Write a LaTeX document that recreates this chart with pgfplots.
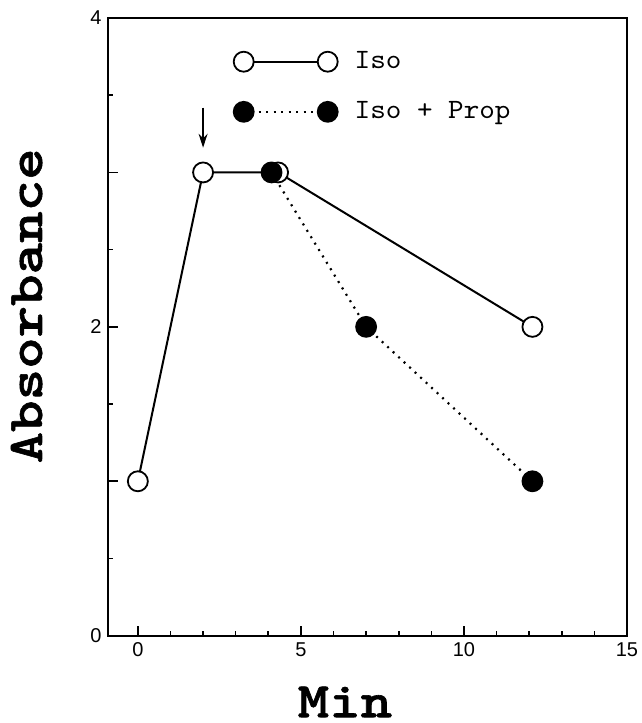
\documentclass[border=0pt]{standalone}
\usepackage{fontspec}
\setmainfont{Liberation Sans}
\newfontfamily\labelfont[Extension=.otf, FakeStretch=1.2, BoldFont=lmmonolt10-bold,
  BoldFeatures={FakeBold=1.2}]{lmmonolt10-regular}
\newfontfamily\legfont[Extension=.otf, FakeStretch=1.06]{lmmono10-regular}
\usepackage{pgfplots}
\pgfplotsset{compat=1.18}
\usetikzlibrary{arrows.meta}
\begin{document}
\begin{tikzpicture}
\begin{axis}[
  at={(0,0)}, anchor=south west,
  scale only axis, width=259.25pt, height=308.85pt,
  xmin=-0.9, xmax=15, ymin=0, ymax=4,
  xtick={0,5,10,15}, minor x tick num=4,
  ytick={0,1,2,3,4}, yticklabels={0,,2,,4}, minor y tick num=1,
  tick pos=left, tick align=inside,
  major tick length=5pt, minor tick length=2.4pt,
  every tick/.style={black, line width=0.8pt},
  axis line style={line width=1pt},
  tick label style={font=\fontsize{10}{12}\selectfont},
  /pgf/number format/assume math mode=true,
  xlabel={Min}, ylabel={Absorbance},
  label style={font=\labelfont\bfseries\fontsize{25}{25}\selectfont, inner sep=0pt},
  xlabel style={at={(rel axis cs:0.456,-0.132)}, anchor=base},
  ylabel style={at={(rel axis cs:-0.1283,0.534)}, anchor=base},
  legend image code/.code={\draw[#1] plot coordinates {(0pt,0pt) (42pt,0pt)};},
  legend cell align=left,
  legend style={draw=none, fill=none, at={(rel axis cs:0.2415,0.952)},
    anchor=north west, inner sep=0pt, outer sep=0pt,
    row sep=11pt, column sep=6.5pt,
    font=\legfont\fontsize{14}{14}\selectfont},
]
% Iso alone
\addplot[black, line width=1pt, mark=*, mark size=5pt,
  mark options={fill=white, line width=0.9pt}]
  coordinates {(0,1) (2,3) (4.3,3) (12.1,2)};
\addlegendentry{Iso}

% Iso + propranolol
\addplot[black, line width=1.1pt, dash pattern=on 1pt off 2.75pt, mark=*, mark size=5pt,
  mark options={solid, fill=black, line width=0.9pt}]
  coordinates {(4.1,3) (7,2) (12.1,1)};
\addlegendentry{Iso + Prop}

\draw[-{Stealth[length=7pt,width=4.5pt]}, line width=0.7pt]
  (axis cs:2,3.42) -- (axis cs:2,3.16);
\end{axis}
\pgfresetboundingbox
\path[use as bounding box] (-54.25pt,-43.65pt) rectangle (266.75pt,317.85pt);
\end{tikzpicture}
\end{document}
